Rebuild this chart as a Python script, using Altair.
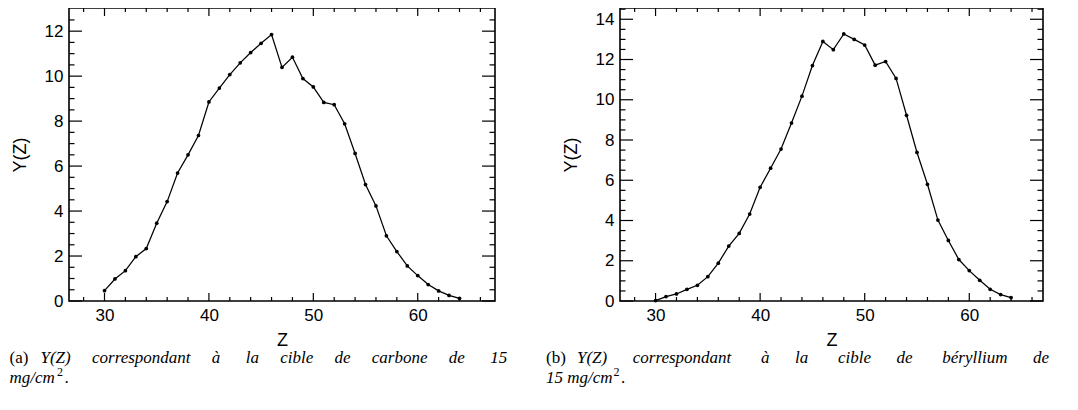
import altair as alt
import pandas as pd

# ---------------- data ----------------
z_a = [30, 31, 32, 33, 34, 35, 36, 37, 38, 39, 40, 41, 42, 43, 44, 45, 46,
       47, 48, 49, 50, 51, 52, 53, 54, 55, 56, 57, 58, 59, 60, 61, 62, 63, 64]
y_a = [0.46, 0.98, 1.35, 1.97, 2.33, 3.46, 4.42, 5.69, 6.50, 7.36, 8.85, 9.47,
       10.07, 10.59, 11.05, 11.46, 11.85, 10.39, 10.84, 9.89, 9.52, 8.83, 8.73,
       7.88, 6.56, 5.18, 4.23, 2.90, 2.20, 1.56, 1.13, 0.73, 0.45, 0.25, 0.12]

z_b = [30, 31, 32, 33, 34, 35, 36, 37, 38, 39, 40, 41, 42, 43, 44, 45, 46,
       47, 48, 49, 50, 51, 52, 53, 54, 55, 56, 57, 58, 59, 60, 61, 62, 63, 64]
y_b = [0.02, 0.22, 0.35, 0.58, 0.78, 1.21, 1.88, 2.73, 3.36, 4.32, 5.65, 6.60,
       7.55, 8.84, 10.18, 11.70, 12.90, 12.49, 13.27, 13.00, 12.72, 11.72, 11.90,
       11.06, 9.23, 7.38, 5.80, 4.02, 3.01, 2.06, 1.51, 1.03, 0.58, 0.32, 0.17]

x_major = [30, 40, 50, 60]
x_minor = [28, 32, 34, 36, 38, 42, 44, 46, 48, 52, 54, 56, 58, 62, 64, 66]
ya_major = [0, 2, 4, 6, 8, 10, 12]
ya_minor = [0.5, 1, 1.5, 2.5, 3, 3.5, 4.5, 5, 5.5, 6.5, 7, 7.5, 8.5, 9, 9.5,
            10.5, 11, 11.5, 12.5]
yb_major = [0, 2, 4, 6, 8, 10, 12, 14]
yb_minor = [0.5, 1, 1.5, 2.5, 3, 3.5, 4.5, 5, 5.5, 6.5, 7, 7.5, 8.5, 9, 9.5,
            10.5, 11, 11.5, 12.5, 13, 13.5, 14.5]

cap_a_tag = "(a)"
cap_a_words = ["Y(Z)", "correspondant", "à", "la", "cible", "de", "carbone", "de", "15"]
cap_a_line2 = "mg/cm"
cap_b_tag = "(b)"
cap_b_words = ["Y(Z)", "correspondant", "à", "la", "cible", "de", "béryllium", "de"]
cap_b_line2 = "15 mg/cm"

W_A, W_B, H = 426, 423, 293
SANS = "Liberation Sans"
SERIF = "Liberation Serif"
NB = "\u00a0"


def justify(words, gaps):
    out = words[0]
    for w, g in zip(words[1:], gaps):
        out += NB * g + w
    return out


def panel(z, y, xdom, ydom, ymaj, ymin, W, tag, words, gaps, line2, l2w, capx):
    df = pd.DataFrame({"Z": z, "Y": y})
    xs = alt.Scale(domain=xdom, nice=False, zero=False)
    ys = alt.Scale(domain=ydom, nice=False, zero=False)
    xaxis = alt.Axis(values=x_major, format="d", ticks=False, tickSize=0, domain=False,
                     grid=False, labelPadding=6, labelFont=SANS, labelFontSize=17,
                     labelColor="black", title="Z", titleFont=SANS, titleFontSize=18,
                     titleFontWeight="normal", titleColor="black", titlePadding=8)
    yaxis = alt.Axis(values=ymaj, format="d", ticks=False, tickSize=0, domain=False,
                     grid=False, labelPadding=6, labelFont=SANS, labelFontSize=17,
                     labelColor="black", title="Y(Z)", titleFont=SANS, titleFontSize=18,
                     titleFontWeight="normal", titleColor="black", titlePadding=15)
    X = lambda f: alt.X(f, scale=xs, axis=xaxis)
    Y = lambda f: alt.Y(f, scale=ys, axis=yaxis)
    base = alt.Chart(df)
    line = base.mark_line(color="black", strokeWidth=1.25).encode(x=X("Z:Q"), y=Y("Y:Q"))
    pts = base.mark_circle(color="black", size=14, opacity=1).encode(x=X("Z:Q"), y=Y("Y:Q"))

    layers = [line, pts]
    # inward ticks on all four sides
    for vals, L in ((x_major, 8), (x_minor, 4)):
        d = alt.Chart(pd.DataFrame({"Z": vals}))
        layers.append(d.mark_rule(color="black", strokeWidth=1.2).encode(
            x=X("Z:Q"), y=alt.value(H), y2=alt.value(H - L)))
        layers.append(d.mark_rule(color="black", strokeWidth=1.2).encode(
            x=X("Z:Q"), y=alt.value(0), y2=alt.value(L)))
    for vals, L in ((ymaj, 13), (ymin, 5.5)):
        d = alt.Chart(pd.DataFrame({"Y": vals}))
        layers.append(d.mark_rule(color="black", strokeWidth=1.2).encode(
            y=Y("Y:Q"), x=alt.value(0), x2=alt.value(L)))
        layers.append(d.mark_rule(color="black", strokeWidth=1.2).encode(
            y=Y("Y:Q"), x=alt.value(W), x2=alt.value(W - L)))

    one = alt.Chart(pd.DataFrame({"k": [0]}))
    layers.append(one.mark_text(font=SERIF, fontSize=17, align="left", color="black").encode(
        text=alt.value(tag), x=alt.value(capx), y=alt.value(350)))
    layers.append(one.mark_text(font=SERIF, fontSize=17, fontStyle="italic", align="left",
                                color="black").encode(
        text=alt.value(justify(words, gaps)), x=alt.value(capx + 31), y=alt.value(350)))
    layers.append(one.mark_text(font=SERIF, fontSize=17, fontStyle="italic", align="left",
                                color="black").encode(
        text=alt.value(line2), x=alt.value(capx), y=alt.value(370)))
    layers.append(one.mark_text(font=SERIF, fontSize=12, align="left", color="black").encode(
        text=alt.value("2"), x=alt.value(capx + l2w), y=alt.value(364)))
    layers.append(one.mark_text(font=SERIF, fontSize=17, align="left", color="black").encode(
        text=alt.value("."), x=alt.value(capx + l2w + 7.5), y=alt.value(370)))
    return alt.layer(*layers).properties(width=W, height=H)


pa = panel(z_a, y_a, [26.6, 67.4], [0, 13.03], ya_major, ya_minor, W_A,
           cap_a_tag, cap_a_words, [5, 5, 6, 5, 5, 5, 5, 6], cap_a_line2, 47.5, -59.5)
pb = panel(z_b, y_b, [26.6, 67.05], [0, 14.56], yb_major, yb_minor, W_B,
           cap_b_tag, cap_b_words, [6, 7, 6, 7, 6, 7, 6], cap_b_line2, 67.5, -74)

chart = alt.hconcat(pa, pb, spacing=125, bounds="flush").properties(
    padding={"left": 0, "top": -2, "right": 0, "bottom": 0}
).configure_view(stroke="black", strokeWidth=1.6)

chart.save("out.html", embed_options={"renderer": "svg", "actions": False})
